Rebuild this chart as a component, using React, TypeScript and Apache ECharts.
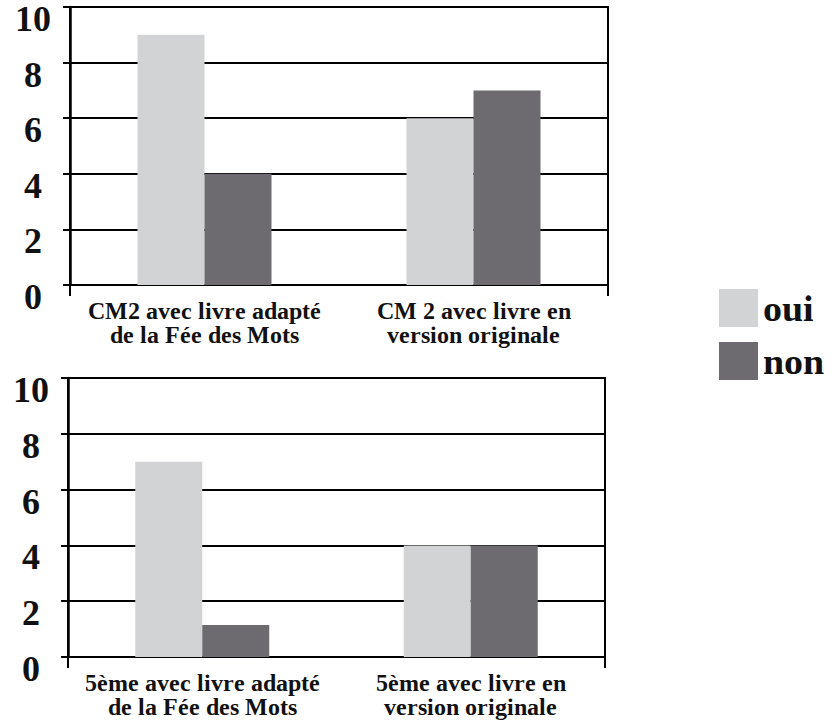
import React, { useEffect, useRef } from "react";
import * as echarts from "echarts";

const seriesNames = ["oui", "non"];
const topCategories = ["CM2 avec livre adapté\nde la Fée des Mots", "CM 2 avec livre en\nversion originale"];
const bottomCategories = ["5ème avec livre adapté\nde la Fée des Mots", "5ème avec livre en\nversion originale"];
const topOui = [9, 6];
const topNon = [4, 7];
const bottomOui = [7, 4];
const bottomNon = [1.15, 4];
const yTicks = { min: 0, max: 10, interval: 2 };

const LIGHT = "#d1d3d4";
const DARK = "#6d6b70";

function draw(el: HTMLDivElement, FONT: string) {
  const chart = echarts.init(el, null, { renderer: "svg" });
  const mkX = (idx: number, cats: string[]) => ({
    type: "category",
    gridIndex: idx,
    data: cats,
    axisLine: { show: true, lineStyle: { color: "#000", width: 2 } },
    axisTick: { show: true, interval: (i: number) => i === 0, length: 11, lineStyle: { color: "#000", width: 2 } },
    axisLabel: { interval: 0, margin: 14, fontFamily: FONT, fontWeight: "bold", fontSize: 24, color: "#111" },
  });
  const hiddenX = (idx: number, cats: string[]) => ({ type: "category", gridIndex: idx, data: cats, show: false });
  const mkY = (idx: number) => ({
    type: "value",
    gridIndex: idx,
    min: yTicks.min,
    max: yTicks.max,
    interval: yTicks.interval,
    axisLine: { show: true, lineStyle: { color: "#000", width: 2.5 } },
    axisTick: { show: true, length: 7, lineStyle: { color: "#000", width: 2 } },
    splitLine: { show: true, lineStyle: { color: "#000", width: 2 } },
    axisLabel: { show: false },
  });
  // label-only axes on grids shifted 12px down, so the numbers sit just below their gridlines
  const labelY = (idx: number) => ({
    type: "value",
    gridIndex: idx,
    min: yTicks.min,
    max: yTicks.max,
    interval: yTicks.interval,
    axisLine: { show: false },
    axisTick: { show: false },
    splitLine: { show: false },
    axisLabel: { margin: 37, align: "center", fontFamily: FONT, fontWeight: "bold", fontSize: 36, color: "#111" },
  });
  const barCommon = { type: "bar", barWidth: 67, barGap: "0%" };
  chart.setOption({
    animation: false,
    legend: {
      data: seriesNames,
      orient: "vertical",
      left: 714,
      top: 284,
      icon: "rect",
      itemWidth: 39,
      itemHeight: 38,
      itemGap: 15,
      textStyle: { fontFamily: FONT, fontWeight: "bold", fontSize: 38, color: "#111" },
    },
    grid: [
      { left: 70, top: 7, width: 538, height: 278, show: true, borderColor: "#000", borderWidth: 2 },
      { left: 68, top: 378, width: 537, height: 279, show: true, borderColor: "#000", borderWidth: 2 },
      { left: 70, top: 19, width: 538, height: 278 },
      { left: 68, top: 390, width: 537, height: 279 },
    ],
    xAxis: [mkX(0, topCategories), mkX(1, bottomCategories), hiddenX(2, topCategories), hiddenX(3, bottomCategories)],
    yAxis: [mkY(0), mkY(1), labelY(2), labelY(3)],
    series: [
      { ...barCommon, name: seriesNames[0], xAxisIndex: 0, yAxisIndex: 0, data: topOui, itemStyle: { color: LIGHT } },
      { ...barCommon, name: seriesNames[1], xAxisIndex: 0, yAxisIndex: 0, data: topNon, itemStyle: { color: DARK } },
      { ...barCommon, name: seriesNames[0], xAxisIndex: 1, yAxisIndex: 1, data: bottomOui, itemStyle: { color: LIGHT } },
      { ...barCommon, name: seriesNames[1], xAxisIndex: 1, yAxisIndex: 1, data: bottomNon, itemStyle: { color: DARK } },
    ],
  });
  return chart;
}

export default function App() {
  const ref = useRef<HTMLDivElement>(null);
  useEffect(() => {
    document.body.style.margin = "0";
    let chart: echarts.ECharts | null = null;
    let done = false;
    const start = (font: string) => {
      if (done || !ref.current) return;
      done = true;
      chart = draw(ref.current, font);
    };
    const timer = setTimeout(() => start("Liberation Serif"), 800);
    try {
      const FF = (window as any).FontFace;
      if (FF && (document as any).fonts) {
        const face = new FF("LibSerifBold", "local('Liberation Serif Bold'), local('LiberationSerif-Bold')", { weight: "bold" });
        face
          .load()
          .then(() => {
            (document as any).fonts.add(face);
            start("LibSerifBold, Liberation Serif, serif");
          })
          .catch(() => start("Liberation Serif"));
      } else {
        start("Liberation Serif");
      }
    } catch (e) {
      start("Liberation Serif");
    }
    return () => {
      clearTimeout(timer);
      done = true;
      if (chart) chart.dispose();
    };
  }, []);
  return <div ref={ref} style={{ width: 835, height: 727, fontFamily: "'Liberation Serif', serif", fontWeight: "bold" }} />;
}
